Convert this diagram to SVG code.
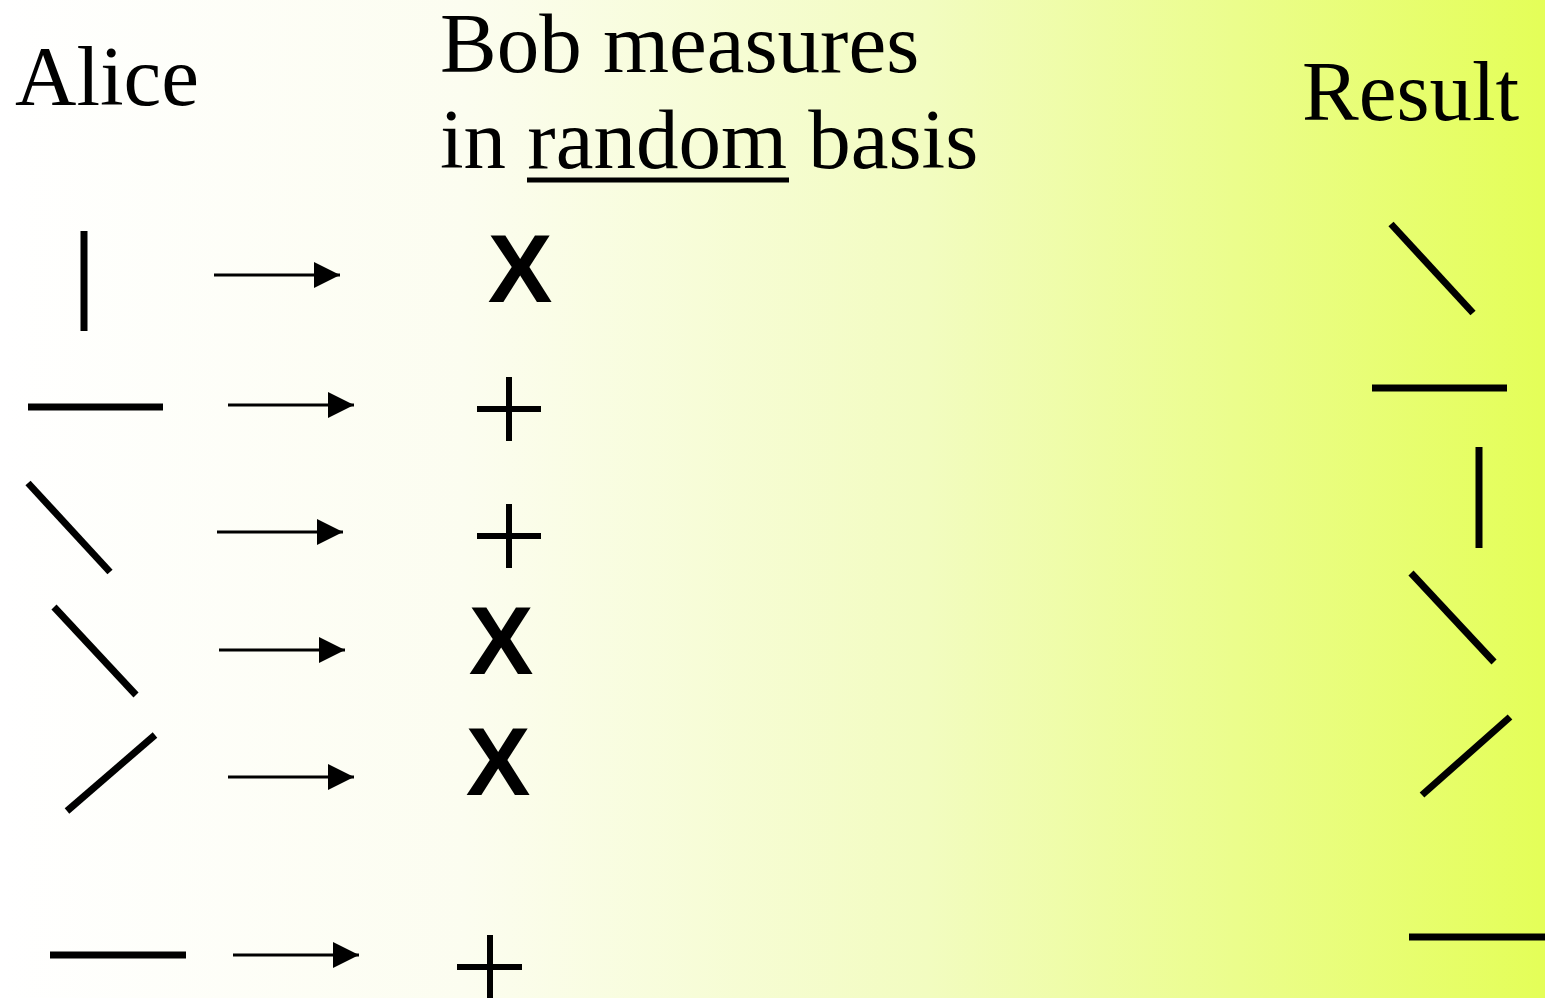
<svg xmlns="http://www.w3.org/2000/svg" width="1545" height="998" viewBox="0 0 1545 998">
<defs>
<linearGradient id="bg" x1="0" y1="0" x2="1" y2="0">
<stop offset="0" stop-color="#ffffff"/>
<stop offset="0.3" stop-color="#fcfdf0"/>
<stop offset="0.6" stop-color="#f2fcc0"/>
<stop offset="1" stop-color="#e4fe58"/>
</linearGradient>
<marker id="ah" viewBox="0 0 10 10" refX="10" refY="5" markerWidth="8.7" markerHeight="8.7" markerUnits="strokeWidth" orient="auto">
<path d="M0,0 L10,5 L0,10 Z" fill="#000"/>
</marker>
<style>
.t{font-family:"Liberation Serif","Times New Roman",serif;font-size:85px;fill:#000}
.x{font-family:"Liberation Sans",Arial,sans-serif;font-weight:bold;font-size:97px;fill:#000;text-anchor:middle}
.s{stroke:#000;stroke-width:7;fill:none}
.p{stroke:#000;stroke-width:6;fill:none}
.a{stroke:#000;stroke-width:3;fill:none}
</style>
</defs>
<rect width="1545" height="998" fill="url(#bg)"/>
<g id="headers">
<text class="t" x="15" y="105">Alice</text>
<text class="t" x="440" y="72">Bob measures</text>
<text class="t" x="440" y="168">in random basis</text>
<line x1="527" y1="180" x2="789" y2="180" stroke="#000" stroke-width="5"/>
<text class="t" x="1302" y="120">Result</text>
</g>
<g id="alice">
<line class="s" x1="84" y1="231" x2="84" y2="331"/>
<line class="s" x1="28" y1="407" x2="163" y2="407"/>
<line class="s" x1="28" y1="483" x2="110" y2="572"/>
<line class="s" x1="54" y1="607" x2="136" y2="695"/>
<line class="s" x1="155" y1="735" x2="67" y2="811"/>
<line class="s" x1="50" y1="955" x2="186" y2="955"/>
</g>
<g id="connectors">
<line class="a" x1="214" y1="275" x2="340" y2="275" marker-end="url(#ah)"/>
<line class="a" x1="228" y1="405" x2="354" y2="405" marker-end="url(#ah)"/>
<line class="a" x1="217" y1="532" x2="343" y2="532" marker-end="url(#ah)"/>
<line class="a" x1="219" y1="650" x2="345" y2="650" marker-end="url(#ah)"/>
<line class="a" x1="228" y1="777" x2="354" y2="777" marker-end="url(#ah)"/>
<line class="a" x1="233" y1="955" x2="359" y2="955" marker-end="url(#ah)"/>
</g>
<g id="bob">
<text class="x" x="520" y="302">X</text>
<path class="p" d="M509,377 V441 M477,409 H541"/>
<path class="p" d="M509,504 V568 M477,536 H541"/>
<text class="x" x="501" y="674">X</text>
<text class="x" x="498" y="795">X</text>
<path class="p" d="M490,935 V1000 M457,967 H522"/>
</g>
<g id="result">
<line class="s" x1="1391" y1="224" x2="1473" y2="313"/>
<line class="s" x1="1372" y1="388" x2="1507" y2="388"/>
<line class="s" x1="1479" y1="447" x2="1479" y2="548"/>
<line class="s" x1="1411" y1="573" x2="1494" y2="662"/>
<line class="s" x1="1510" y1="717" x2="1422" y2="795"/>
<line class="s" x1="1409" y1="937" x2="1545" y2="937"/>
</g>
</svg>
